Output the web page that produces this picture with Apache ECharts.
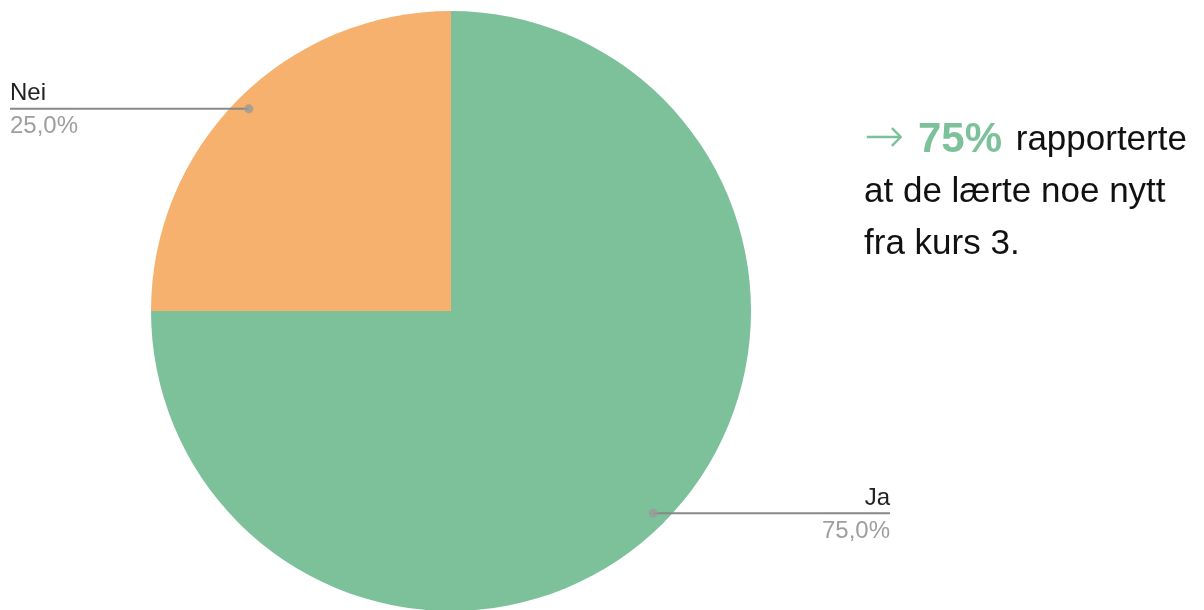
<!DOCTYPE html>
<html>
<head>
<meta charset="utf-8">
<script src="https://cdn.jsdelivr.net/npm/echarts@6/dist/echarts.min.js"></script>
<style>
  html, body { margin: 0; padding: 0; background: #ffffff; }
  #chart { width: 1204px; height: 610px; }
</style>
</head>
<body>
<div id="chart"></div>
<script>
// Survey answers: did the participants learn something new from course 3?
const categories = ['Ja', 'Nei'];
const shares = [75, 25];
const sliceColors = ['#7dc19b', '#f5b16d'];
const noteLines = ['rapporterte', 'at de lærte noe nytt', 'fra kurs 3.'];

// Layout
const CENTER = [451, 311];
const RADIUS = 300;
const ANCHOR = 0.953;              // where the label leader starts, as a share of the radius
const EDGE = { Ja: 314, Nei: 10 }; // label distance from the chart edge on each side
const FONT = "'Liberation Sans', Arial, Helvetica, sans-serif";
const GREEN = sliceColors[0];

const fmtPct = v => v.toFixed(1).replace('.', ',') + '%';

// Midpoint of every slice along the angle axis (same start angle and direction as the pie)
let run = 0;
const anchorPoints = shares.map(v => {
  const mid = run + v / 2;
  run += v;
  return [ANCHOR, mid];
});
const total = run;

const pieData = categories.map((name, i) => ({
  name,
  value: shares[i],
  itemStyle: { color: sliceColors[i] }
}));

const labelData = categories.map((name, i) => ({
  name,
  value: shares[i],
  label: { edgeDistance: EDGE[name] }
}));

const chart = echarts.init(document.getElementById('chart'), null, { renderer: 'canvas' });

chart.setOption({
  animation: false,
  backgroundColor: '#ffffff',
  polar: { center: CENTER, radius: RADIUS },
  angleAxis: {
    type: 'value', min: 0, max: total, startAngle: 90, clockwise: true,
    axisLine: { show: false }, axisTick: { show: false },
    axisLabel: { show: false }, splitLine: { show: false }
  },
  radiusAxis: {
    type: 'value', min: 0, max: 1,
    axisLine: { show: false }, axisTick: { show: false },
    axisLabel: { show: false }, splitLine: { show: false }
  },
  series: [
    {
      // the visible pie
      type: 'pie',
      center: CENTER,
      radius: [0, RADIUS],
      startAngle: 90,
      clockwise: true,
      silent: true,
      label: { show: false },
      labelLine: { show: false },
      itemStyle: { borderWidth: 0 },
      data: pieData,
      z: 2
    },
    {
      // transparent twin that carries the outside labels and their leader lines
      type: 'pie',
      center: CENTER,
      radius: [0, RADIUS * ANCHOR],
      startAngle: 90,
      clockwise: true,
      silent: true,
      itemStyle: { color: 'rgba(0,0,0,0)', borderWidth: 0 },
      label: {
        show: true,
        position: 'outer',
        alignTo: 'edge',
        distanceToLabelLine: -2,
        fontFamily: FONT,
        formatter: p => `{name|${p.name}}\n{hr|}\n{pct|${fmtPct(p.percent)}}`,
        rich: {
          name: { fontFamily: FONT, fontSize: 24, lineHeight: 30, color: '#222222' },
          hr: { width: '100%', height: 0, borderColor: '#888888', borderWidth: 2 },
          pct: { fontFamily: FONT, fontSize: 24, lineHeight: 30, verticalAlign: 'bottom', color: '#9e9e9e' }
        }
      },
      labelLine: {
        show: true, length: 0, length2: 10, smooth: false,
        lineStyle: { color: '#888888', width: 2 }
      },
      data: labelData,
      z: 3
    },
    {
      // anchor dots at the start of each leader line
      type: 'scatter',
      coordinateSystem: 'polar',
      symbol: 'circle',
      symbolSize: 9,
      silent: true,
      itemStyle: { color: '#9a9a9a' },
      data: anchorPoints,
      z: 4
    }
  ],
  graphic: [
    {
      type: 'text',
      x: 864,
      y: 114,
      silent: true,
      style: {
        text: `{arrow|→} {big|${shares[0]}%} {t|${noteLines[0]}}\n{t|${noteLines[1]}}\n{t|${noteLines[2]}}`,
        font: "35px 'Liberation Sans', Arial, sans-serif",
        lineHeight: 52,
        fill: '#111111',
        verticalAlign: 'top',
        align: 'left',
        rich: {
          arrow: { fontFamily: "'DejaVu Sans', " + FONT, fontWeight: 200, fontSize: 48, lineHeight: 52, fill: GREEN },
          big: { fontFamily: FONT, fontSize: 42, fontWeight: 'bold', lineHeight: 52, padding: [0, 4, 0, 4], fill: GREEN },
          t: { fontFamily: FONT, fontSize: 35, lineHeight: 52, fill: '#111111' }
        }
      }
    }
  ]
});
</script>
</body>
</html>
